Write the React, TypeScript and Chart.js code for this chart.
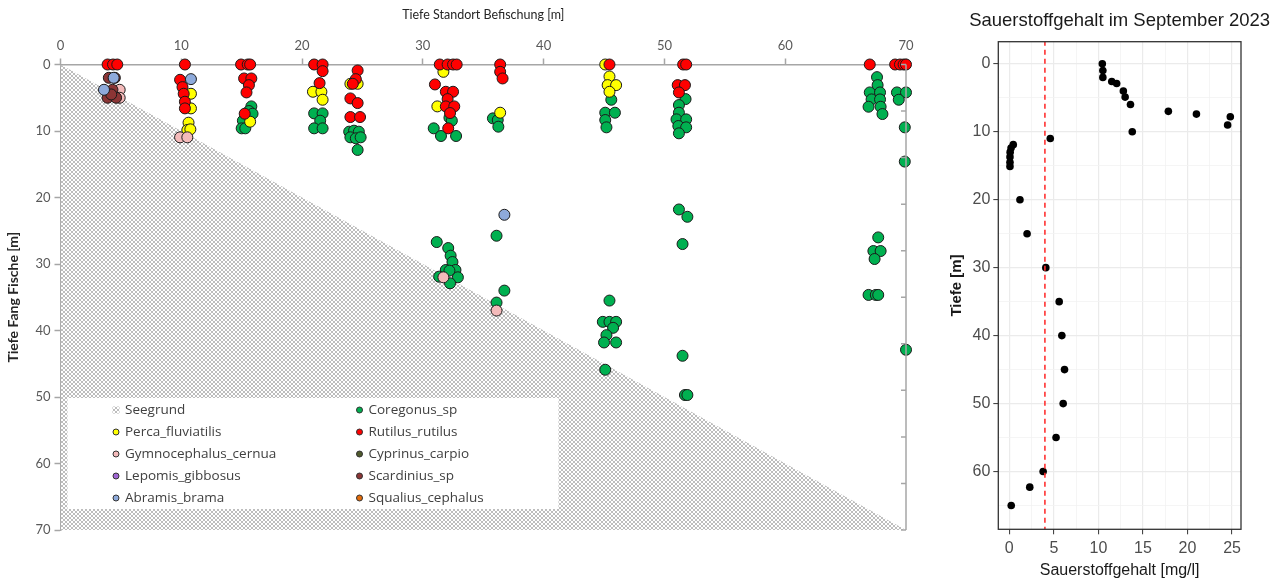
import React, { useEffect, useRef } from "react";
import { Chart, registerables } from "chart.js";

Chart.register(...registerables);

type Pt = [number, number];

// ---------- Left chart data (x = Tiefe Standort, y = Tiefe Fang) ----------
const seegrundSite = [0, 70];
const seegrundDepth = [0, 70];

const coregonusSp: Pt[] = [
  [15.8, 6.3], [15.6, 7.0], [15.9, 7.4], [15.1, 8.45], [15.0, 9.6], [15.3, 9.6],
  [21.0, 7.35], [21.7, 7.35], [21.5, 8.45], [21.0, 9.6], [21.7, 9.6],
  [23.9, 10.1], [24.3, 9.95], [24.7, 10.1], [24.0, 10.95], [24.45, 11.1], [24.85, 10.95], [24.6, 12.85],
  [32.2, 8.0], [32.4, 8.45], [30.9, 9.6], [31.5, 10.75], [32.75, 10.75],
  [31.15, 26.7], [32.1, 27.6], [32.3, 28.75], [32.45, 29.7], [31.9, 30.9], [32.7, 30.9], [32.2, 31.0],
  [31.35, 31.9], [32.9, 32.0], [32.25, 32.9],
  [35.8, 8.1], [36.2, 8.35], [36.25, 9.35], [36.1, 25.75], [36.75, 34.0], [36.1, 35.8],
  [45.6, 5.3], [45.1, 7.25], [45.9, 7.25], [45.1, 8.35], [45.2, 9.45],
  [45.45, 35.5], [44.9, 38.7], [45.45, 38.7], [46.0, 38.7], [45.75, 39.6], [45.2, 40.7], [45.0, 41.8],
  [46.0, 41.8], [45.1, 45.9],
  [51.75, 5.2], [51.2, 6.1], [51.2, 7.25], [51.0, 8.25], [51.8, 8.25], [51.15, 9.25], [51.8, 9.45], [51.2, 10.35],
  [51.2, 21.8], [51.9, 22.9], [51.5, 27.0], [51.5, 43.8], [51.7, 49.7], [51.9, 49.7],
  [67.6, 1.9], [67.65, 3.1], [67.0, 4.2], [67.85, 4.2], [67.15, 5.25], [67.85, 5.25], [66.9, 6.35], [67.9, 6.35],
  [68.05, 7.45], [69.25, 4.2], [70.0, 4.2], [69.4, 5.3], [69.9, 9.45], [69.9, 14.6],
  [67.7, 26.0], [67.3, 28.05], [67.9, 28.05], [67.4, 29.25], [66.9, 34.65], [67.5, 34.65], [67.7, 34.65],
  [70.0, 42.9],
];

const percaFluviatilis: Pt[] = [
  [10.8, 4.4], [10.8, 6.6], [10.6, 8.75], [10.5, 9.85], [10.75, 9.75],
  [15.7, 8.6],
  [20.9, 4.1], [21.6, 4.1], [21.7, 5.3],
  [24.0, 2.9], [24.6, 2.9],
  [31.7, 1.1], [31.2, 6.3],
  [36.4, 7.25],
  [45.1, 0], [45.45, 1.8], [45.3, 3.1], [46.0, 3.1], [45.45, 4.1],
];

const rutilusRutilus: Pt[] = [
  [3.9, 0], [4.35, 0], [4.7, 0],
  [10.3, 0], [9.9, 2.3], [10.1, 3.4], [10.2, 4.4], [10.3, 5.6], [10.3, 6.6],
  [14.95, 0], [15.5, 0], [15.7, 0], [15.2, 2.1], [15.8, 2.1], [15.6, 3.1], [15.4, 4.2], [15.25, 7.4],
  [21.0, 0], [21.7, 0], [21.7, 1.0], [21.45, 2.8],
  [24.6, 0.9], [24.45, 2.2], [24.2, 2.9], [24.0, 5.1], [24.6, 5.8], [24.0, 7.9], [24.8, 7.9],
  [31.4, 0], [32.05, 0], [32.5, 0], [32.8, 0], [31.0, 3.0], [31.9, 4.1], [32.5, 4.1], [32.05, 5.2],
  [31.9, 6.3], [32.6, 6.3], [32.25, 7.3], [32.1, 9.6],
  [36.4, 0], [36.4, 1.1], [36.6, 2.1],
  [45.45, 0],
  [51.55, 0], [51.8, 0], [51.1, 3.1], [51.7, 3.1], [51.2, 4.2],
  [67.0, 0], [69.1, 0], [69.5, 0], [69.8, 0], [70.0, 0],
];

const gymnocephalusCernua: Pt[] = [
  [4.9, 3.8], [4.9, 5.0], [9.9, 10.95], [10.5, 10.95], [31.7, 32.0], [36.1, 37.0],
];
const cyprinusCarpio: Pt[] = [];
const lepomisGibbosus: Pt[] = [];
const scardiniusSp: Pt[] = [
  [4.0, 2.0], [4.5, 2.0], [4.3, 3.8], [3.9, 5.0], [4.6, 5.0], [4.2, 4.5],
];
const abramisBrama: Pt[] = [
  [4.4, 2.0], [3.6, 3.8], [10.8, 2.2], [36.75, 22.6],
];
const squaliusCephalus: Pt[] = [];

const speciesLabels = [
  "Coregonus_sp", "Perca_fluviatilis", "Rutilus_rutilus", "Gymnocephalus_cernua", "Cyprinus_carpio",
  "Lepomis_gibbosus", "Scardinius_sp", "Abramis_brama", "Squalius_cephalus",
];
const speciesColors = [
  "#00b050", "#ffff00", "#ff0000", "#f4baba", "#4f5a2c", "#a066d3", "#8b3535", "#8eaadb", "#e46c0a",
];
const speciesPoints = [
  coregonusSp, percaFluviatilis, rutilusRutilus, gymnocephalusCernua, cyprinusCarpio,
  lepomisGibbosus, scardiniusSp, abramisBrama, squaliusCephalus,
];
const seegrundLabel = "Seegrund";
const rightAxisTickValues = [0, 7, 14, 21, 28, 35, 42, 49, 56, 63, 70];

// ---------- Right chart data (Sauerstoff) ----------
const o2Content = [
  10.44, 10.5, 10.5, 11.5, 12.05, 12.8, 13.0, 13.6, 17.85, 21.0, 24.8, 24.5, 13.8, 4.6, 0.45, 0.2,
  0.1, 0.08, 0.08, 0.08, 1.2, 2.0, 4.1, 5.6, 5.9, 6.2, 6.05, 5.25, 3.8, 2.3, 0.22,
];
const o2Depth = [
  0, 1, 2, 2.6, 2.9, 4, 4.9, 6, 7, 7.4, 7.8, 9, 10, 11, 11.9, 12.4,
  13, 13.7, 14.5, 15.1, 20, 25, 30, 35, 40, 45, 50, 55, 60, 62.3, 65,
];
const o2Limit = 4;
const o2Title = "Sauerstoffgehalt im September 2023";

const LEFT_FONT = "Lato";
const LEGEND_FONT = "'Open Sans'";
const RIGHT_FONT = "'Liberation Sans', Arial, sans-serif";

function makeHatch(): CanvasPattern | string {
  const c = document.createElement("canvas");
  c.width = 4;
  c.height = 4;
  const g = c.getContext("2d");
  if (!g) return "#d8d8d8";
  g.fillStyle = "#ffffff";
  g.fillRect(0, 0, 4, 4);
  g.fillStyle = "#bdbdbd";
  for (let i = 0; i < 4; i++) {
    g.fillRect(i, i, 1, 1);
    g.fillRect(3 - i, i, 1, 1);
  }
  return g.createPattern(c, "repeat") || "#d8d8d8";
}

function LeftChart() {
  const ref = useRef<HTMLCanvasElement | null>(null);
  useEffect(() => {
    if (!ref.current) return;
    const hatch = makeHatch();
    const legendPlugin = {
      id: "fishLegend",
      afterDraw(chart: any) {
        const { ctx, chartArea: ca } = chart;
        const bx = ca.left + 7;
        const by = ca.top + 333.5;
        const bw = 491;
        const bh = 111;
        ctx.save();
        ctx.fillStyle = "#ffffff";
        ctx.fillRect(bx, by, bw, bh);
        ctx.font = `13.5px ${LEGEND_FONT}`;
        ctx.textBaseline = "middle";
        const entries = [{ label: seegrundLabel, color: "" }].concat(
          speciesLabels.map((l, i) => ({ label: l, color: speciesColors[i] }))
        );
        entries.forEach((e, i) => {
          const col = i % 2;
          const row = Math.floor(i / 2);
          const mx = bx + (col ? 292 : 48.5);
          const my = by + 12 + row * 22;
          if (!e.color) {
            ctx.fillStyle = hatch;
            ctx.fillRect(mx - 3.5, my - 3.5, 7, 7);
          } else {
            ctx.beginPath();
            ctx.arc(mx, my, 3, 0, Math.PI * 2);
            ctx.fillStyle = e.color;
            ctx.fill();
            ctx.lineWidth = 1;
            ctx.strokeStyle = "#333333";
            ctx.stroke();
          }
          ctx.fillStyle = "#404040";
          ctx.textAlign = "left";
          ctx.fillText(e.label, mx + 9, my);
        });
        ctx.restore();
      },
    };
    const rightAxisPlugin = {
      id: "rightAxis",
      afterDraw(chart: any) {
        const { ctx, chartArea: ca } = chart;
        const y = chart.scales.y;
        ctx.save();
        ctx.strokeStyle = "#a6a6a6";
        ctx.lineWidth = 1.5;
        ctx.beginPath();
        ctx.moveTo(ca.right, ca.top);
        ctx.lineTo(ca.right, ca.bottom);
        rightAxisTickValues.forEach((v) => {
          const py = y.getPixelForValue(v);
          ctx.moveTo(ca.right - 5, py);
          ctx.lineTo(ca.right, py);
        });
        ctx.stroke();
        ctx.restore();
      },
    };
    const datasets: any[] = [
      {
        type: "line",
        label: seegrundLabel,
        data: seegrundSite.map((x, i) => ({ x, y: seegrundDepth[i] })),
        borderWidth: 0,
        borderColor: "rgba(0,0,0,0)",
        pointRadius: 0,
        fill: { value: 70 },
        backgroundColor: hatch,
        order: 100,
      },
      ...speciesLabels.map((label, i) => ({
        type: "scatter",
        label,
        data: speciesPoints[i].map(([x, y]) => ({ x, y })),
        backgroundColor: speciesColors[i],
        borderColor: "#1a1a1a",
        borderWidth: 1,
        pointRadius: 5.5,
        pointHoverRadius: 5.5,
        order: 20 - i,
        clip: false,
      })),
    ];
    const axisColor = "#a6a6a6";
    const chart = new Chart(ref.current, {
      type: "scatter",
      data: { datasets },
      plugins: [legendPlugin, rightAxisPlugin],
      options: {
        animation: false,
        responsive: false,
        devicePixelRatio: 1,
        layout: { padding: { left: 0, top: 0, right: 34, bottom: 50 } },
        plugins: { legend: { display: false }, tooltip: { enabled: false } },
        scales: {
          x: {
            type: "linear",
            position: "top",
            min: 0,
            max: 70,
            ticks: { stepSize: 10, color: "#595959", font: { family: LEFT_FONT, size: 13 }, padding: 5 },
            grid: { drawOnChartArea: false, drawTicks: true, tickLength: 6, color: axisColor, tickColor: axisColor, tickWidth: 1.5 },
            border: { color: axisColor, width: 1.5 },
            title: {
              display: true,
              text: "Tiefe Standort Befischung [m]",
              color: "#262626",
              font: { family: LEFT_FONT, size: 12.5 },
              padding: { top: 7, bottom: 0 },
            },
            afterFit: (s: any) => {
              s.height = 64.5;
            },
          },
          y: {
            type: "linear",
            position: "left",
            reverse: true,
            min: 0,
            max: 70,
            ticks: { stepSize: 10, color: "#595959", font: { family: LEFT_FONT, size: 13 }, padding: 4 },
            grid: { drawOnChartArea: false, drawTicks: true, tickLength: 6, color: axisColor, tickColor: axisColor, tickWidth: 1.5 },
            border: { color: axisColor, width: 1.5 },
            title: {
              display: true,
              text: "Tiefe Fang Fische [m]",
              color: "#262626",
              font: { family: LEFT_FONT, size: 14, weight: "bold" },
              padding: { top: 5, bottom: 0 },
            },
            afterFit: (s: any) => {
              s.width = 60.5;
            },
          },
        },
      } as any,
    });
    return () => chart.destroy();
  }, []);
  return <canvas ref={ref} width={940} height={580} />;
}

function RightChart() {
  const ref = useRef<HTMLCanvasElement | null>(null);
  useEffect(() => {
    if (!ref.current) return;
    const framePlugin = {
      id: "frameTitle",
      afterDraw(chart: any) {
        const { ctx, chartArea: ca } = chart;
        ctx.save();
        ctx.strokeStyle = "#333333";
        ctx.lineWidth = 1.3;
        ctx.strokeRect(ca.left, ca.top, ca.right - ca.left, ca.bottom - ca.top);
        ctx.fillStyle = "#1a1a1a";
        ctx.font = `18.5px ${RIGHT_FONT}`;
        ctx.textAlign = "center";
        ctx.textBaseline = "middle";
        ctx.fillText(o2Title, (ca.left + ca.right) / 2, 21);
        ctx.restore();
      },
    };
    const isMajorX = (v: number) => Math.abs(v % 5) < 1e-6;
    const isMajorY = (v: number) => Math.abs(v % 10) < 1e-6;
    const chart = new Chart(ref.current, {
      type: "scatter",
      data: {
        datasets: [
          {
            type: "line",
            data: [{ x: o2Limit, y: -10 }, { x: o2Limit, y: 80 }],
            borderColor: "#ff3030",
            borderWidth: 1.6,
            borderDash: [5, 4],
            pointRadius: 0,
            fill: false,
            order: 0,
          },
          {
            data: o2Content.map((v, i) => ({ x: v, y: o2Depth[i] })),
            backgroundColor: "#000000",
            borderWidth: 0,
            pointRadius: 3.8,
            pointHoverRadius: 3.8,
            order: 1,
            clip: false,
          },
        ] as any,
      },
      plugins: [framePlugin],
      options: {
        animation: false,
        responsive: false,
        devicePixelRatio: 1,
        layout: { padding: { left: 0, top: 41.7, right: 41, bottom: 0 } },
        plugins: { legend: { display: false }, tooltip: { enabled: false } },
        scales: {
          x: {
            type: "linear",
            min: -1.23,
            max: 26,
            ticks: {
              stepSize: 2.5,
              includeBounds: false,
              autoSkip: false,
              maxRotation: 0,
              maxTicksLimit: 100,
              color: "#4d4d4d",
              font: { family: RIGHT_FONT, size: 16 },
              padding: 5,
              callback: (v: any) => (isMajorX(Number(v)) ? String(v) : ""),
            },
            grid: {
              color: (c: any) => (isMajorX(c.tick.value) ? "#ebebeb" : "#f2f2f2"),
              lineWidth: (c: any) => (isMajorX(c.tick.value) ? 1.2 : 0.8),
              tickColor: (c: any) => (isMajorX(c.tick.value) ? "#333333" : "rgba(0,0,0,0)"),
              tickLength: 5,
              tickWidth: 1,
            },
            border: { display: false },
            title: {
              display: true,
              text: "Sauerstoffgehalt [mg/l]",
              color: "#1a1a1a",
              font: { family: RIGHT_FONT, size: 16 },
              padding: { top: 0, bottom: 0 },
            },
            afterFit: (s: any) => {
              s.height = 50.7;
            },
          },
          y: {
            type: "linear",
            reverse: true,
            min: -3.25,
            max: 68.5,
            ticks: {
              stepSize: 5,
              includeBounds: false,
              autoSkip: false,
              maxTicksLimit: 100,
              color: "#4d4d4d",
              font: { family: RIGHT_FONT, size: 16 },
              padding: 3,
              callback: (v: any) => (isMajorY(Number(v)) ? String(v) : ""),
            },
            grid: {
              color: (c: any) => (isMajorY(c.tick.value) ? "#ebebeb" : "#f2f2f2"),
              lineWidth: (c: any) => (isMajorY(c.tick.value) ? 1.2 : 0.8),
              tickColor: (c: any) => (isMajorY(c.tick.value) ? "#333333" : "rgba(0,0,0,0)"),
              tickLength: 5,
              tickWidth: 1,
            },
            border: { display: false },
            title: {
              display: true,
              text: "Tiefe [m]",
              color: "#1a1a1a",
              font: { family: RIGHT_FONT, size: 15, weight: "bold" },
              padding: { top: 8, bottom: 0 },
            },
            afterFit: (s: any) => {
              s.width = 58.3;
            },
          },
        },
      } as any,
    });
    return () => chart.destroy();
  }, []);
  return <canvas ref={ref} width={342} height={580} />;
}

export default function App() {
  return (
    <div style={{ position: "absolute", left: 0, top: 0, width: 1282, height: 580, background: "#ffffff" }}>
      <div style={{ position: "absolute", left: 0, top: 0, width: 940, height: 580 }}>
        <LeftChart />
      </div>
      <div style={{ position: "absolute", left: 940, top: 0, width: 342, height: 580 }}>
        <RightChart />
      </div>
    </div>
  );
}
